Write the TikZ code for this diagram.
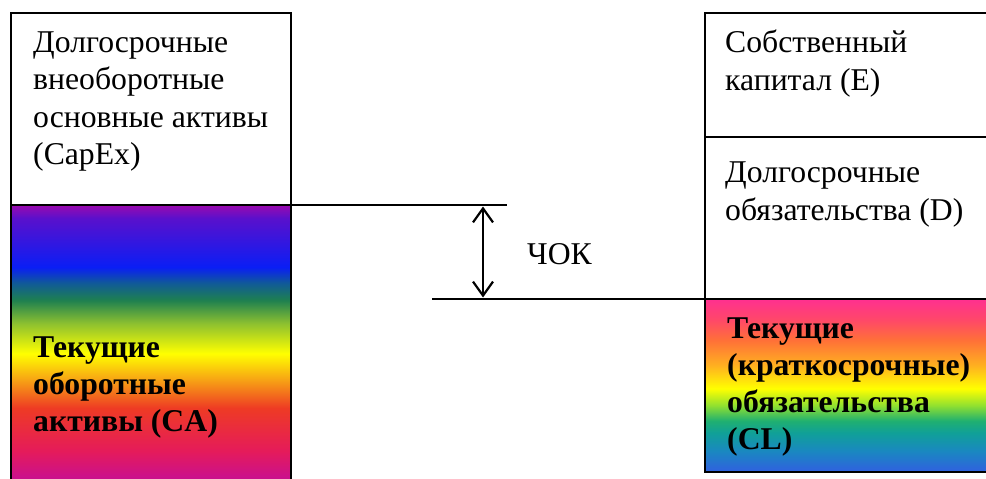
\documentclass[tikz,border=0pt]{standalone}
\usepackage{fontspec}
\setmainfont{Liberation Serif}
\usetikzlibrary{arrows.meta}

% rainbow for current assets (bottom to top)
\definecolor{la0}{HTML}{C81090}
\definecolor{la1}{HTML}{E51B5A}
\definecolor{la2}{HTML}{EE3B24}
\definecolor{la3}{HTML}{F7A015}
\definecolor{la4}{HTML}{FFFF00}
\definecolor{la5}{HTML}{8CC030}
\definecolor{la6}{HTML}{1E8050}
\definecolor{la7}{HTML}{105A98}
\definecolor{la8}{HTML}{0A1EF5}
\definecolor{la9}{HTML}{5A10CC}
\definecolor{la10}{HTML}{9B0AAE}
\pgfdeclareverticalshading{assetsrainbow}{100bp}{%
  color(0bp)=(la0); color(25bp)=(la0); color(30.3bp)=(la1);
  color(38.1bp)=(la2); color(43.1bp)=(la3); color(48bp)=(la4);
  color(53.5bp)=(la5); color(57.7bp)=(la6); color(60.8bp)=(la7);
  color(63.7bp)=(la8); color(72.6bp)=(la9); color(75bp)=(la10);
  color(100bp)=(la10)}

% rainbow for current liabilities (bottom to top)
\definecolor{lb0}{HTML}{3060E0}
\definecolor{lb1}{HTML}{1A88C0}
\definecolor{lb2}{HTML}{10A098}
\definecolor{lb3}{HTML}{20B070}
\definecolor{lb4}{HTML}{90E030}
\definecolor{lb5}{HTML}{FFFF00}
\definecolor{lb6}{HTML}{FFB020}
\definecolor{lb7}{HTML}{FF7038}
\definecolor{lb8}{HTML}{FF4868}
\definecolor{lb9}{HTML}{FF3090}
\pgfdeclareverticalshading{liabrainbow}{100bp}{%
  color(0bp)=(lb0); color(25bp)=(lb0); color(31.1bp)=(lb1);
  color(36.3bp)=(lb2); color(39.8bp)=(lb3); color(44.2bp)=(lb4);
  color(49.1bp)=(lb5); color(55.8bp)=(lb6); color(63.1bp)=(lb7);
  color(68.9bp)=(lb8); color(75bp)=(lb9); color(100bp)=(lb9)}

% multi-line labels are placed by the baseline of their last line
\tikzset{
  txt/.style={font=\fontsize{31.7}{37.5}\selectfont, align=left, inner sep=0pt, anchor=base west},
  boldtxt/.style={txt, font=\fontsize{31.7}{37}\selectfont\bfseries},
  frame/.style={line width=2.6pt},
  level/.style={line width=1.8pt},
  gap/.style={line width=2.2pt, {Straight Barb[length=14pt,width=20pt]}-{Straight Barb[length=14pt,width=20pt]}}
}

\begin{document}
\begin{tikzpicture}[x=1pt,y=-1pt]
\useasboundingbox (0,0) rectangle (986,479);

% corner points of the two balance columns
\coordinate (AL) at (11,13);
\coordinate (AR) at (291,13);
\coordinate (ADl) at (11,205);
\coordinate (ADr) at (291,205);
\coordinate (ABl) at (11,480);
\coordinate (ABr) at (291,480);

\coordinate (PL) at (705,13);
\coordinate (PR) at (990,13);
\coordinate (PDl) at (705,137);
\coordinate (PDr) at (990,137);
\coordinate (PCl) at (705,299);
\coordinate (PCr) at (990,299);
\coordinate (PBl) at (705,472);
\coordinate (PBr) at (990,472);

% level lines and the gap between them
\coordinate (upEnd) at (507,205);
\coordinate (lowStart) at (432,299);
\coordinate (gapT) at (483,206.5);
\coordinate (gapB) at (483,297.5);

% colour fills
\shade[shading=assetsrainbow] (ADl) rectangle (ABr);
\shade[shading=liabrainbow] (PCl) rectangle (PBr);

% asset column
\draw[frame] (ABl) -- (AL) -- (AR) -- (ABr);
\draw[frame] (ADl) -- (ADr);

% liability column
\draw[frame] (PR) -- (PL) -- (PBl) -- (PBr);
\draw[frame] (PDl) -- (PDr);
\draw[frame] (PCl) -- (PCr);

% level lines
\draw[level] (ADr) -- (upEnd);
\draw[level] (lowStart) -- (PCl);
\draw[gap] (gapT) -- (gapB);

% labels
\node[txt] (capex) at (33,164.5) {Долгосрочные\\внеоборотные\\основные активы\\(CapEx)};
\node[boldtxt] (ca) at (33,431) {Текущие\\оборотные\\активы (CA)};
\node[txt] (equity) at (725,90) {Собственный\\капитал (E)};
\node[txt] (debt) at (725,220) {Долгосрочные\\обязательства (D)};
\node[boldtxt] (cl) at (727,449) {Текущие\\(краткосрочные)\\обязательства\\(CL)};
\node[txt] (nwc) at (527,264) {ЧОК};
\end{tikzpicture}
\end{document}
